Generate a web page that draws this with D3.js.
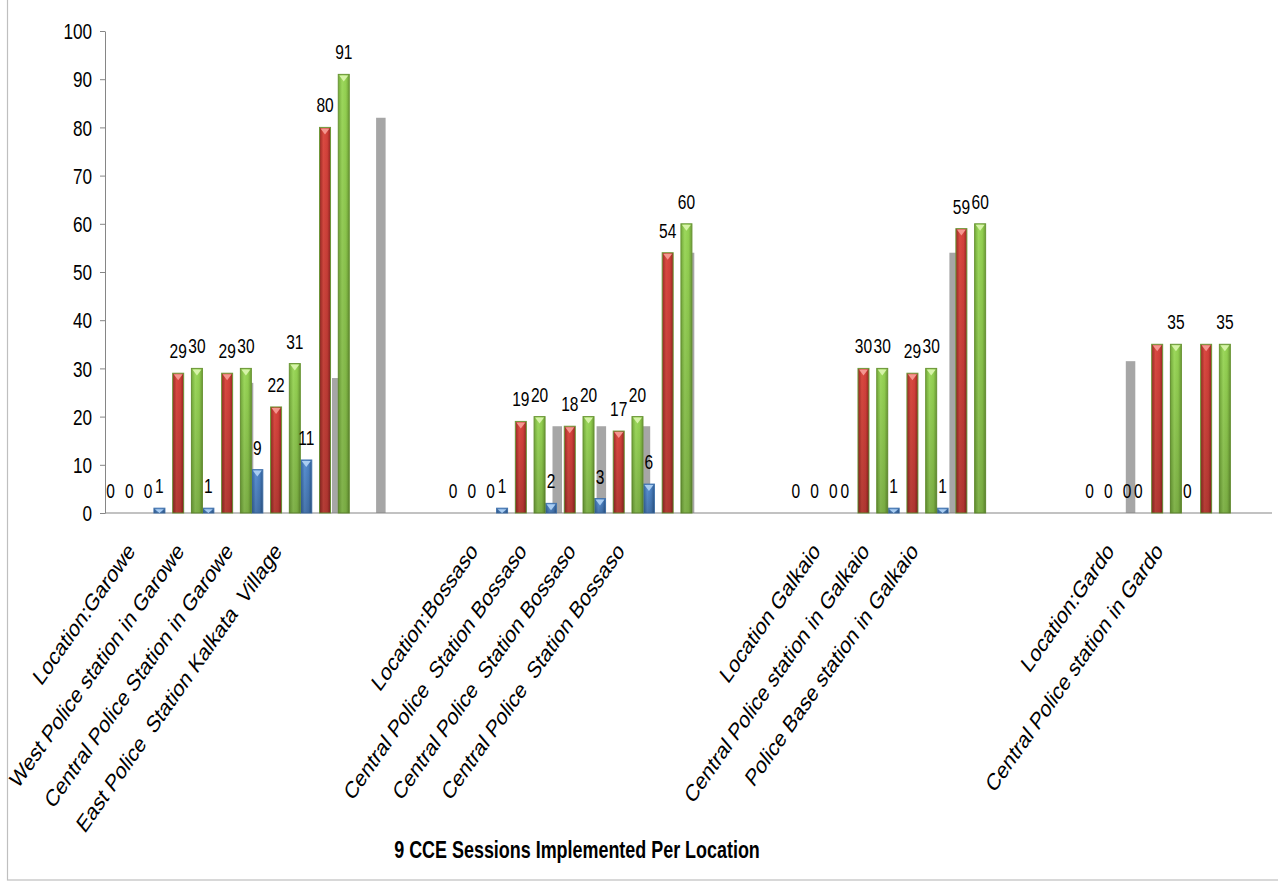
<!DOCTYPE html>
<html>
<head>
<meta charset="utf-8">
<script src="https://cdn.jsdelivr.net/npm/d3@7"></script>
<style>
  body { margin: 0; background: #fff; }
  text { font-family: "Liberation Sans", Arial, sans-serif; fill: #000; }
  .cat { white-space: pre; }
</style>
</head>
<body>
<div id="chart"></div>
<script>
// category slots along the x axis ("" = slot without a label)
const categories = [
  "Location:Garowe", "West Police station in Garowe", "Central Police Station in Garowe",
  "East Police  Station Kalkata  Village", "", "", "",
  "Location:Bossaso", "Central Police  Station Bossaso", "Central Police  Station Bossaso",
  "Central Police  Station Bossaso", "", "", "",
  "Location Galkaio", "Central Police station in Galkaio", "Police Base station in Galkaio", "", "", "",
  "Location:Gardo", "Central Police station in Gardo", "", ""
];
const blueValues  = [0, 1, 1, 9, 11, null, null, 0, 1, 2, 3, 6, null, null, 0, 0, 1, 1, null, null, 0, 0, 0, null];
const redValues   = [0, 29, 29, 22, 80, null, null, 0, 19, 18, 17, 54, null, null, 0, 30, 29, 59, null, null, 0, 35, 35, null];
const greenValues = [0, 30, 30, 31, 91, null, null, 0, 20, 20, 20, 60, null, null, 0, 30, 30, 60, null, null, 0, 35, 35, null];
// red labels that are not shown in the original
const redNoLabel = [21, 22];
// grey series sits on its own (finer) category grid
const graySlots  = [5, 7, 8, 12, 13, 14, 15, 21, 25, 26];
const grayValues = [27, 28, 82, 18, 18, 18, 54, 54, 31.5, 31.5];
const yTicks = [0, 10, 20, 30, 40, 50, 60, 70, 80, 90, 100];
const xTitle = "9 CCE Sessions Implemented Per Location";

const width = 1278, height = 883;
const SX = 0.78; // narrow text look

const svg = d3.select("#chart").append("svg")
  .attr("width", width).attr("height", height);

// outer chart frame
svg.append("rect")
  .attr("x", 7.5).attr("y", -2).attr("width", 1300).attr("height", 882)
  .attr("fill", "none").attr("stroke", "#bfbfbf").attr("stroke-width", 1.2);

const x = d3.scaleBand().domain(d3.range(categories.length))
  .range([108.5, 108.5 + categories.length * 48.95]).padding(0);
const xs = d3.scalePoint().domain(["blue", "red", "green"]).range([-22.5, 15]);
const xGray = d3.scaleBand().domain(d3.range(27)).range([6, 6 + 27 * 44.1]);
const y = d3.scaleLinear().domain([0, 100]).range([513, 31]);
const barW = 11;

// gradients
const defs = svg.append("defs");
const grads = {
  blue:  ["#35659f", "#5a91d3", "#4c82c4", "#2f5c93"],
  red:   ["#982924", "#da4a41", "#d2403a", "#922520"],
  green: ["#74ab3a", "#9dd85d", "#92cf50", "#6c9c35"]
};
Object.entries(grads).forEach(([k, c]) => {
  const g = defs.append("linearGradient").attr("id", "g-" + k)
    .attr("x1", "0%").attr("x2", "100%").attr("y1", "0%").attr("y2", "0%");
  [0, 35, 70, 100].forEach((o, i) => g.append("stop").attr("offset", o + "%").attr("stop-color", c[i]));
});
const shade = defs.append("linearGradient").attr("id", "shade")
  .attr("x1", "0%").attr("x2", "0%").attr("y1", "0%").attr("y2", "100%");
shade.append("stop").attr("offset", "0%").attr("stop-color", "#000").attr("stop-opacity", 0);
shade.append("stop").attr("offset", "100%").attr("stop-color", "#000").attr("stop-opacity", 0.18);

const strokes = { blue: "#4576b0", red: "#6f9a3a", green: "#6a9636" };
const tops = { blue: "#a9cdf2", red: "#f5968f", green: "#d6f3a8" };

// grey bars (behind)
svg.append("g").selectAll("rect")
  .data(graySlots.map((s, i) => ({ s, v: grayValues[i] })))
  .join("rect")
  .attr("x", d => xGray(d.s) + xGray.bandwidth() / 2 - 4.75)
  .attr("width", 9.5)
  .attr("y", d => y(d.v))
  .attr("height", d => y(0) - y(d.v))
  .attr("fill", "#a6a6a6");

// y axis
const yAxis = svg.append("g").attr("transform", "translate(105,0)")
  .call(d3.axisLeft(y).tickValues(yTicks).tickSize(5).tickSizeOuter(0));
yAxis.select(".domain").attr("stroke", "#868686");
yAxis.selectAll(".tick line").attr("stroke", "#868686");
yAxis.selectAll(".tick text")
  .attr("x", -13 / SX).attr("dy", "0.35em")
  .attr("transform", `scale(${SX},1)`)
  .style("font-size", "22px").style("font-family", '"Liberation Sans", Arial, sans-serif');

// x axis line
svg.append("line").attr("x1", 105).attr("x2", 1272).attr("y1", y(0)).attr("y2", y(0))
  .attr("stroke", "#868686").attr("stroke-width", 1.2);

// coloured bars
const series = [
  { key: "blue", vals: blueValues },
  { key: "red", vals: redValues },
  { key: "green", vals: greenValues }
];
const cx = (k, s) => x(k) + x.bandwidth() / 2 + xs(s);

series.forEach(s => {
  const pts = s.vals.map((v, k) => ({ k, v })).filter(d => d.v !== null && d.v > 0);
  const g = svg.append("g");
  g.selectAll("rect.bar").data(pts).join("rect").attr("class", "bar")
    .attr("x", d => cx(d.k, s.key) - barW / 2).attr("width", barW)
    .attr("y", d => y(d.v)).attr("height", d => y(0) - y(d.v))
    .attr("fill", `url(#g-${s.key})`).attr("stroke", strokes[s.key]).attr("stroke-width", 1);
  g.selectAll("rect.sh").data(pts).join("rect").attr("class", "sh")
    .attr("x", d => cx(d.k, s.key) - barW / 2).attr("width", barW)
    .attr("y", d => y(d.v)).attr("height", d => y(0) - y(d.v))
    .attr("fill", "url(#shade)");
  g.selectAll("path.top").data(pts).join("path").attr("class", "top")
    .attr("d", d => {
      const x0 = cx(d.k, s.key) - barW / 2 + 1, x1 = x0 + barW - 2, t = y(d.v) + 1;
      const h = Math.min(6, y(0) - y(d.v) - 1);
      return `M${x0},${t}L${x1},${t}L${(x0 + x1) / 2},${t + h}Z`;
    })
    .attr("fill", tops[s.key]);
});

// data labels
series.forEach(s => {
  const pts = s.vals.map((v, k) => ({ k, v }))
    .filter(d => d.v !== null && !(s.key === "red" && redNoLabel.includes(d.k)));
  svg.append("g").selectAll("text").data(pts).join("text")
    .attr("text-anchor", "middle")
    .attr("transform", d => `translate(${cx(d.k, s.key)},${y(d.v) - 15}) scale(0.74,1)`)
    .style("font-size", "21px")
    .text(d => d.v);
});

// category labels
svg.append("g").selectAll("text")
  .data(categories.map((c, k) => ({ c, k })).filter(d => d.c !== ""))
  .join("text").attr("class", "cat")
  .attr("text-anchor", "end")
  .attr("transform", d => `translate(${x(d.k) + x.bandwidth() / 2 + 3},552) scale(${SX},1) rotate(-48)`)
  .style("font-size", "24px")
  .text(d => d.c);

// axis title
svg.append("text")
  .attr("text-anchor", "middle")
  .attr("transform", `translate(577,858) scale(${SX},1)`)
  .style("font-size", "23px").style("font-weight", "bold")
  .text(xTitle);
</script>
</body>
</html>
